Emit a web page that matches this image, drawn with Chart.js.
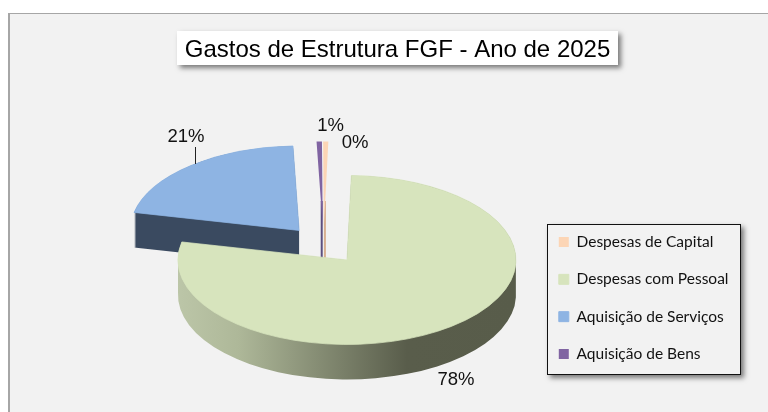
<!DOCTYPE html>
<html><head><meta charset="utf-8">
<script src="https://cdn.jsdelivr.net/npm/chart.js@4"></script>
<style>html,body{margin:0;padding:0;background:#fff}canvas{display:block}</style>
</head><body><div style="width:768px;height:412px"><canvas id="c" width="768" height="412"></canvas></div>
<script>
const chartTitle = 'Gastos de Estrutura FGF - Ano de 2025';
const categories = ['Despesas de Capital','Despesas com Pessoal','Aquisição de Serviços','Aquisição de Bens'];
const values = [0.49, 78, 21, 0.51];
const colors = ['#fcd5b5','#d7e4bd','#8eb4e3','#8064a2'];
const wallColors = ['#d8b090','#000','#3a4a60','#5c5080'];
const seamWidths = [0,1,1,0];

const SQUASH = 0.5, DEPTH = 35, EXPLODE = 38, RADIUS = 169;
const drawOrder = [2,3,0,1];
const labelPos = [[355,143],[456,379.5],[186,137],[330.5,125.5]];

function panel(ctx,x,y,w,h,fill,stroke,shadow){
  ctx.save();
  if(shadow){ctx.shadowColor='rgba(0,0,0,.5)';ctx.shadowBlur=5;ctx.shadowOffsetX=3;ctx.shadowOffsetY=3;}
  ctx.fillStyle=fill;ctx.fillRect(x,y,w,h);
  ctx.restore();
  if(stroke){ctx.strokeStyle=stroke;ctx.lineWidth=1;ctx.strokeRect(x+.5,y+.5,w-1,h-1);}
}

const pie3d = {
  id:'pie3d',
  afterLayout(chart){
    const t=chart.titleBlock; Object.assign(t,{left:177,right:618,top:35.5,bottom:65.5,width:441,height:30});
    const l=chart.legend; Object.assign(l,{left:537,right:760,top:212.5,bottom:420,width:223,height:207});
  },
  beforeDraw(chart){
    const ctx=chart.ctx;
    ctx.fillStyle='#fff';ctx.fillRect(0,0,768,412);
    ctx.fillStyle='#f2f2f2';ctx.fillRect(8,13,760,399);
    ctx.strokeStyle='#a6a6a6';ctx.lineWidth=1;ctx.strokeRect(8.5,13.5,780,420);
    ctx.fillStyle='#a6a6a6';ctx.fillRect(8,13,2,399);
    panel(ctx,177,31,441,34,'#fff',null,true);
    panel(ctx,547,224,194,151,'#f2f2f2','#111',true);
  },
  beforeDatasetDraw(chart,args){
    const ctx=chart.ctx, arcs=args.meta.data;
    const grad=ctx.createLinearGradient(177,0,515,0);
    grad.addColorStop(0,'#bcc6a8');grad.addColorStop(.18,'#aeb899');
    grad.addColorStop(.68,'#595d4b');grad.addColorStop(1,'#585c4a');
    drawOrder.forEach(i=>{
      const a=arcs[i];
      const {x,y,startAngle,endAngle,outerRadius}=a.getProps(['x','y','startAngle','endAngle','outerRadius'],true);
      const mid=(startAngle+endAngle)/2;
      const ox=x+Math.cos(mid)*EXPLODE, oy=y+Math.sin(mid)*EXPLODE*SQUASH;
      ctx.fillStyle=i===1?grad:wallColors[i];
      if(endAngle-startAngle<0.2){
        // very thin slices show only a sliver of side wall below the apex
        const side=i===3?-2:0;
        ctx.fillRect(ox+side,oy-25,2,25+DEPTH);
      }else{
        ctx.beginPath();
        for(let d=DEPTH;d>0;d-=.25){
          ctx.moveTo(ox,oy+d);
          ctx.ellipse(ox,oy+d,outerRadius,outerRadius*SQUASH,0,startAngle,endAngle);
          ctx.closePath();
        }
        ctx.fill();
      }
      ctx.save();
      ctx.translate(ox,oy);ctx.scale(1,SQUASH);ctx.translate(-x,-y);
      a.draw(ctx);
      ctx.restore();
    });
    return false;
  },
  afterDatasetsDraw(chart){
    const ctx=chart.ctx, total=values.reduce((s,v)=>s+v,0);
    ctx.strokeStyle='#222';ctx.lineWidth=1;
    ctx.beginPath();ctx.moveTo(195.5,147);ctx.lineTo(195.5,164);ctx.stroke();
    ctx.fillStyle='#111';ctx.font='18.5px "Liberation Sans"';ctx.textAlign='center';ctx.textBaseline='middle';
    values.forEach((v,i)=>ctx.fillText(Math.round(v/total*100)+'%',labelPos[i][0],labelPos[i][1]));
  }
};

new Chart(document.getElementById('c'),{
  type:'pie',
  data:{labels:categories,datasets:[{data:values,backgroundColor:colors,borderColor:colors,borderWidth:seamWidths}]},
  plugins:[pie3d],
  options:{
    responsive:false,animation:false,
    radius:RADIUS,rotation:-0.26,
    layout:{padding:{left:0,right:121,top:48,bottom:0}},
    events:[],
    plugins:{
      tooltip:{enabled:false},
      title:{display:true,text:chartTitle,color:'#000',padding:0,font:{family:'"Liberation Sans"',size:24,weight:'normal',lineHeight:1.25}},
      legend:{display:true,position:'chartArea',align:'start',
        labels:{boxWidth:10,boxHeight:10,padding:21.8,color:'#111',font:{family:'Lato',size:15.5}}}
    }
  }
});
</script></body></html>
